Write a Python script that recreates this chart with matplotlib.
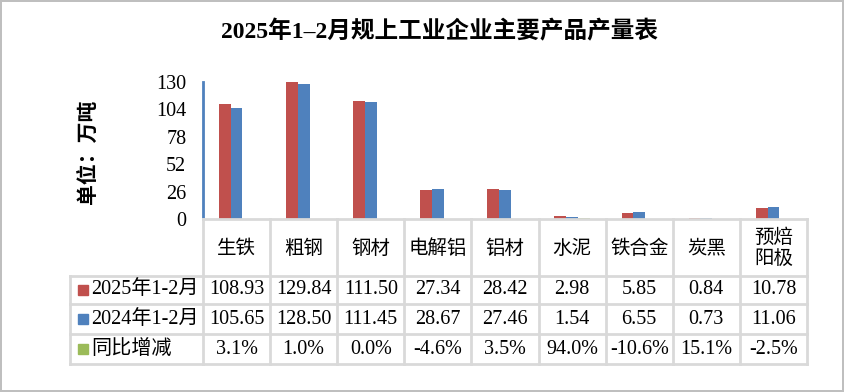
import matplotlib.pyplot as plt
import numpy as np

plt.rcParams['font.family'] = ['Liberation Serif', 'Noto Sans CJK SC']

products = ['生铁', '粗钢', '钢材', '电解铝', '铝材', '水泥', '铁合金', '炭黑', '预焙\n阳极']
out_2025 = [108.93, 129.84, 111.50, 27.34, 28.42, 2.98, 5.85, 0.84, 10.78]
out_2024 = [105.65, 128.50, 111.45, 28.67, 27.46, 1.54, 6.55, 0.73, 11.06]
yoy_pct = [3.1, 1.0, 0.0, -4.6, 3.5, 94.0, -10.6, 15.1, -2.5]
series = ['2025年1-2月', '2024年1-2月', '同比增减']
colors = ['#C0504D', '#4F81BD', '#9BBB59']
yticks = [0, 26, 52, 78, 104, 130]

W, H = 844, 392
fig = plt.figure(figsize=(W / 100, H / 100), dpi=100)
fig.patch.set_edgecolor('#BFBFBF')
fig.patch.set_linewidth(1.5)

# plot area in pixels
x0, x1 = 203, 807
ytop, ybot = 82, 219
ax = fig.add_axes([x0 / W, 1 - ybot / H, (x1 - x0) / W, (ybot - ytop) / H])

n = len(products)
x = np.arange(n)
w = 0.175
vals = [out_2025, out_2024, [v / 100 for v in yoy_pct]]
for k in range(3):
    ax.bar(x + (k - 1) * w, vals[k], w, color=colors[k], zorder=2)

ax.set_xlim(-0.5, n - 0.5)
ax.set_ylim(0, 130)
ax.set_yticks(yticks)
ax.tick_params(axis='y', length=0, pad=12, labelsize=14.5)
ax.set_xticks([])
for s in ['top', 'right', 'bottom']:
    ax.spines[s].set_visible(False)
ax.spines['left'].set_color('#4F81BD')
ax.spines['left'].set_linewidth(2)
ax.patch.set_alpha(0)

# overlay in pixel coords for the data table
ov = fig.add_axes([0, 0, 1, 1])
ov.set_xlim(0, W)
ov.set_ylim(H, 0)
ov.axis('off')
ov.patch.set_alpha(0)

grid = '#D9D9D9'
lw = 2
cw = (x1 - x0) / n
row_y = [219, 276, 304, 334, 364]
lx = 70
# horizontal lines
ov.plot([x0, x1], [row_y[0], row_y[0]], color=grid, lw=lw)
for yy in row_y[1:]:
    ov.plot([lx, x1], [yy, yy], color=grid, lw=lw)
# vertical lines
for i in range(n + 1):
    ov.plot([x0 + i * cw] * 2, [row_y[0], row_y[-1]], color=grid, lw=lw)
ov.plot([lx, lx], [row_y[1], row_y[-1]], color=grid, lw=lw)

# header
for i, p in enumerate(products):
    ov.text(x0 + (i + 0.5) * cw, (row_y[0] + row_y[1]) / 2 + 1, p, ha='center', va='center',
            fontsize=14, linespacing=1.25)

rows = [['%.2f' % v for v in out_2025],
        ['%.2f' % v for v in out_2024],
        ['%.1f%%' % v for v in yoy_pct]]
for r in range(3):
    yc = (row_y[r + 1] + row_y[r + 2]) / 2
    ov.add_patch(plt.Rectangle((78, yc - 5), 10, 10, color=colors[r]))
    ov.text(91, yc, series[r], ha='left', va='center', fontsize=14.5)
    for i in range(n):
        ov.text(x0 + (i + 0.5) * cw, yc, rows[r][i], ha='center', va='center', fontsize=14.5)

ov.text(440, 32, '2025年1–2月规上工业企业主要产品产量表', ha='center', va='center',
        fontsize=17, fontweight='bold')
ov.text(89, 152, '单位：万吨', ha='center', va='center', rotation=90,
        fontsize=15, fontweight='bold')

fig.savefig('out.png', dpi=100)
